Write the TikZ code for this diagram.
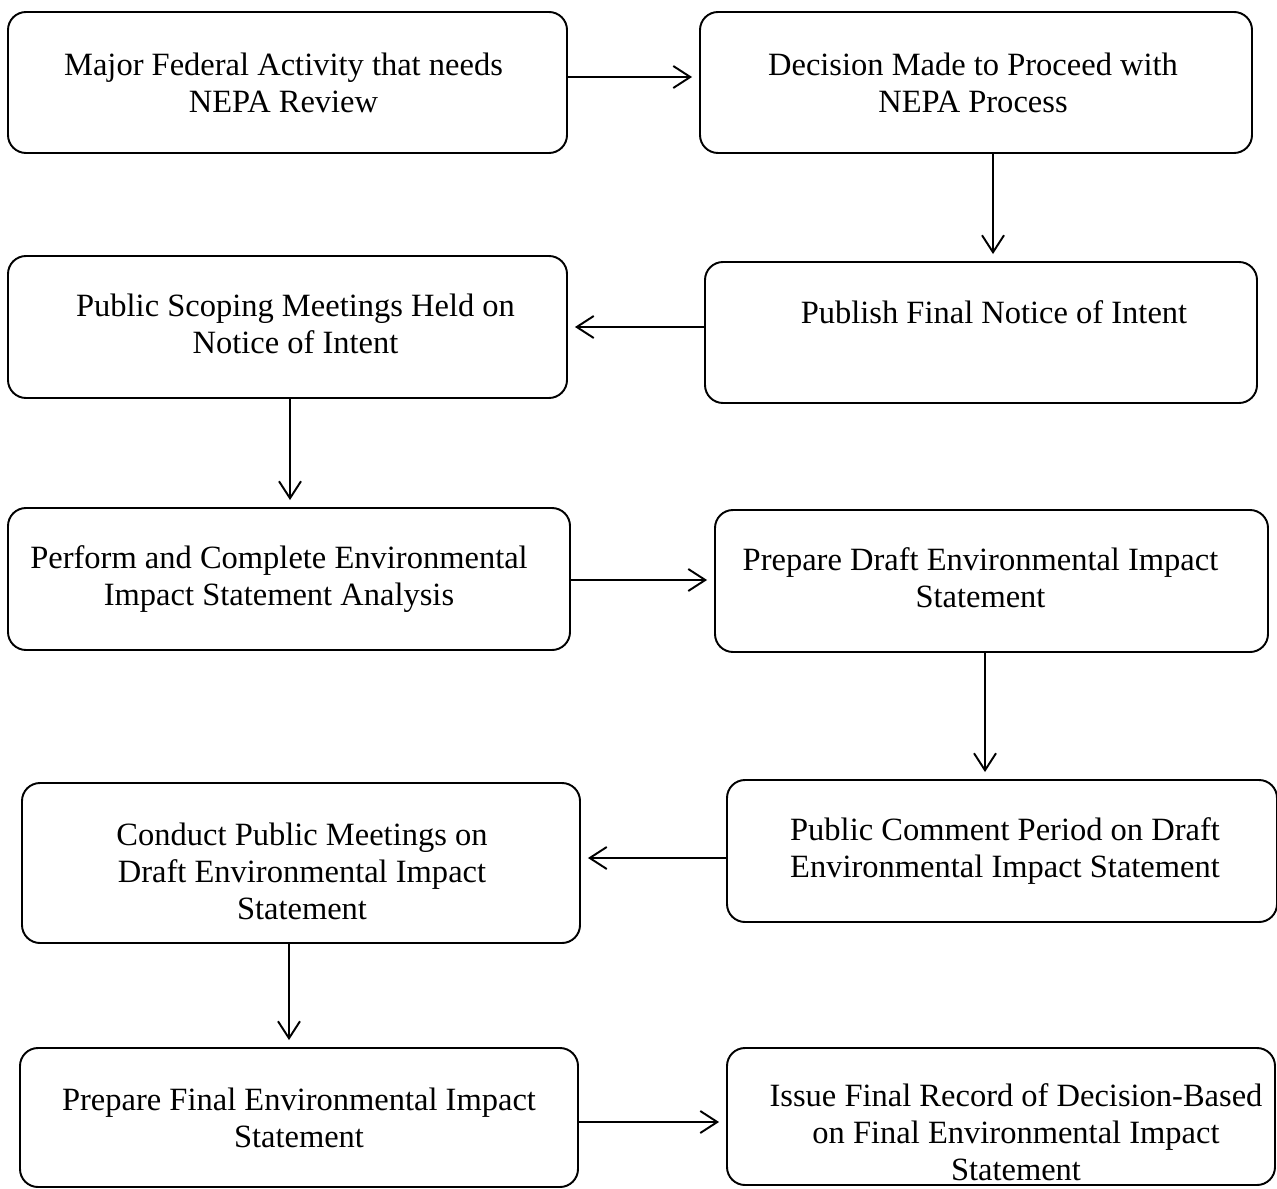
\documentclass[tikz,border=0pt]{standalone}
\usepackage{fontspec}
\setmainfont{Liberation Serif}
\usetikzlibrary{arrows.meta}

\tikzset{
  nepa/.style={draw, line width=1.1pt, rounded corners=0.36cm, inner sep=0pt},
  nepatext/.style={align=center, inner sep=0pt, font=\fontsize{18.5}{21}\selectfont},
  flow/.style={line width=1.1pt, -{Straight Barb[length=0.34cm, width=0.44cm]},
    shorten >=0.14cm}
}

\begin{document}
\begin{tikzpicture}[x=0.02cm, y=-0.02cm]
\useasboundingbox (0,0) rectangle (1277,1189);
% name, centre x, centre y, width, height, text shift right, text shift up, text
\newcommand{\nepabox}[8]{
  \node[nepa, minimum width=#4*0.02cm, minimum height=#5*0.02cm,
    label={[nepatext, xshift=#6*0.02cm, yshift=#7*0.02cm]center:{#8}}] (#1) at (#2,#3) {};
}

% left column
\nepabox{activity}{287.5}{82.5}{559}{141}{-4}{0}{Major Federal Activity that needs\\NEPA Review}
\nepabox{scoping}{287.5}{327}{559}{142}{8}{3}{Public Scoping Meetings Held on\\Notice of Intent}
\nepabox{analysis}{289}{579}{562}{142}{-10}{0}{Perform and Complete Environmental\\Impact Statement Analysis}
\nepabox{meetings}{301}{863}{558}{160}{1}{-8}{Conduct Public Meetings on\\Draft Environmental Impact\\Statement}
\nepabox{final}{299}{1117.5}{558}{139}{0}{0}{Prepare Final Environmental Impact\\Statement}

% right column
\nepabox{decision}{976}{82.5}{552}{141}{-3}{0}{Decision Made to Proceed with\\NEPA Process}
\nepabox{notice}{981}{332.5}{552}{141}{13}{20}{Publish Final Notice of Intent}
\nepabox{draft}{991.5}{581}{553}{142}{-11}{3}{Prepare Draft Environmental Impact\\Statement}
\nepabox{comment}{1002}{851}{550}{142}{3}{0}{Public Comment Period on Draft\\Environmental Impact Statement}
\nepabox{record}{1001}{1116.5}{548}{137}{15}{-16}{Issue Final Record of Decision-Based\\on Final Environmental Impact\\Statement}

% arrows to the right
\foreach \a/\b/\y in {activity/decision/77, analysis/draft/580, final/record/1122}
  \draw[flow] (\a.east |- 0,\y) -- (\b.west |- 0,\y);
% arrows to the left
\foreach \a/\b/\y in {notice/scoping/327, comment/meetings/858}
  \draw[flow] (\a.west |- 0,\y) -- (\b.east |- 0,\y);
% arrows down
\foreach \a/\b/\x in {decision/notice/993, scoping/analysis/290, draft/comment/985, meetings/final/289}
  \draw[flow] (\a.south -| \x,0) -- (\b.north -| \x,0);
\end{tikzpicture}
\end{document}
